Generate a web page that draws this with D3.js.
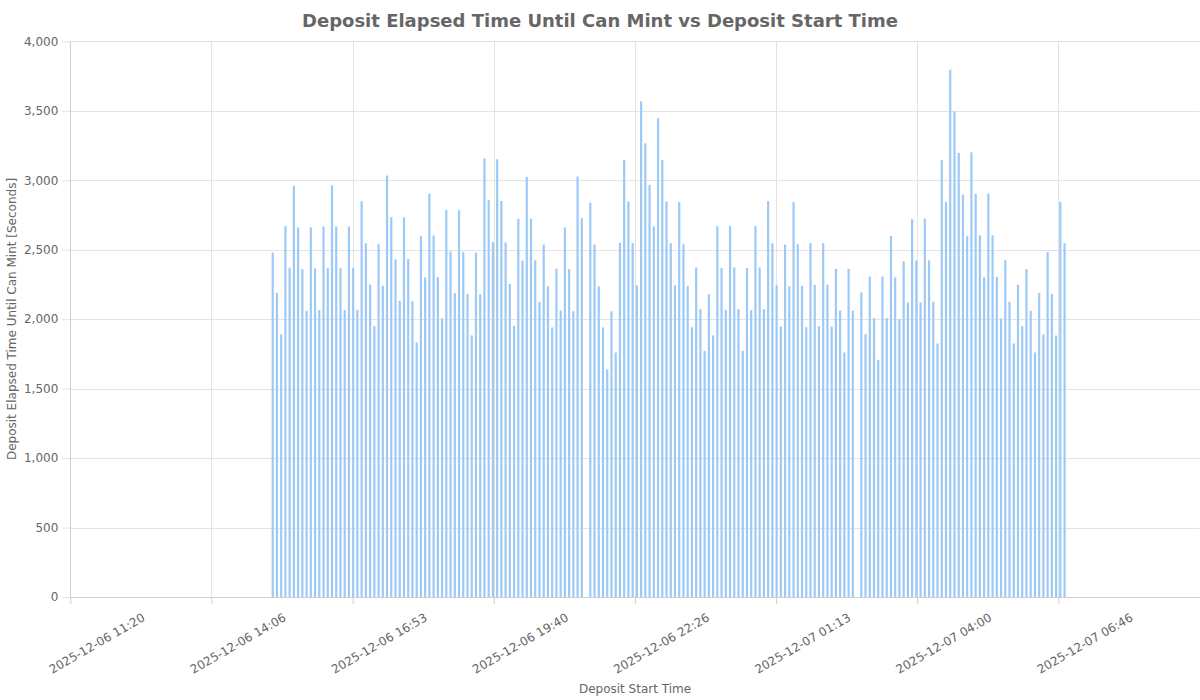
<!DOCTYPE html>
<html>
<head>
<meta charset="utf-8">
<script src="https://cdn.jsdelivr.net/npm/d3@7"></script>
<style>
  html, body { margin: 0; padding: 0; background: #fff; }
  svg { display: block; font-family: "DejaVu Sans", sans-serif; }
</style>
</head>
<body>
<svg id="chart" width="1200" height="700"></svg>
<script>
// ---- data ----
const chartTitle = "Deposit Elapsed Time Until Can Mint vs Deposit Start Time";
const xAxisTitle = "Deposit Start Time";
const yAxisTitle = "Deposit Elapsed Time Until Can Mint [Seconds]";

const xDomain = ["2025-12-06 11:20:00", "2025-12-07 09:33:20"];
const xTickTimes = [
  "2025-12-06 11:20:00", "2025-12-06 14:06:40", "2025-12-06 16:53:20", "2025-12-06 19:40:00",
  "2025-12-06 22:26:40", "2025-12-07 01:13:20", "2025-12-07 04:00:00", "2025-12-07 06:46:40"
];
const yTicks = [0, 500, 1000, 1500, 2000, 2500, 3000, 3500, 4000];

// deposits every 5 minutes starting at firstDeposit (null = no deposit in that slot)
const firstDeposit = "2025-12-06 15:19:00";
const depositStepMinutes = 5;
const elapsedSeconds = [
  2480, 2190, 1890, 2670, 2370, 2960, 2660, 2360, 2060, 2660,
  2365, 2065, 2667, 2367, 2964, 2667, 2367, 2065, 2667, 2367,
  2067, 2849, 2547, 2249, 1950, 2539, 2240, 3034, 2734, 2432,
  2132, 2734, 2432, 2129, 1832, 2597, 2300, 2904, 2602, 2302,
  2005, 2787, 2487, 2187, 2784, 2482, 2182, 1883, 2480, 2180,
  3156, 2856, 2554, 3151, 2851, 2552, 2252, 1952, 2722, 2422,
  3024, 2724, 2424, 2124, 2537, 2237, 1940, 2362, 2062, 2660,
  2360, 2057, 3026, 2727, null, 2839, 2537, 2237, 1940, 1638,
  2057, 1760, 2549, 3146, 2847, 2547, 2244, 3568, 3266, 2966,
  2667, 3446, 3146, 2847, 2547, 2244, 2842, 2539, 2240, 1942,
  2372, 2072, 1772, 2180, 1883, 2669, 2367, 2067, 2671, 2372,
  2072, 1772, 2367, 2065, 2671, 2372, 2072, 2849, 2547, 2244,
  1947, 2537, 2237, 2842, 2539, 2240, 1942, 2547, 2247, 1950,
  2547, 2247, 1947, 2362, 2062, 1760, 2362, 2062, null, 2192,
  1892, 2307, 2007, 1707, 2307, 2007, 2599, 2300, 2000, 2417,
  2120, 2719, 2422, 2120, 2724, 2424, 2125, 1825, 3144, 2844,
  3796, 3496, 3197, 2897, 2597, 3201, 2902, 2604, 2302, 2904,
  2604, 2304, 2005, 2424, 2125, 1825, 2247, 1950, 2360, 2060,
  1760, 2189, 1890, 2482, 2182, 1882, 2844, 2547
];

// ---- chart ----
const parse = d3.timeParse("%Y-%m-%d %H:%M:%S");
const fmt = d3.timeFormat("%Y-%m-%d %H:%M");
const t0 = parse(firstDeposit);
const deposits = elapsedSeconds
  .map((v, i) => ({ t: d3.timeMinute.offset(t0, i * depositStepMinutes), v }))
  .filter(d => d.v != null);

const plot = { left: 70.3, right: 1199.5, top: 41.3, bottom: 597 };
const svg = d3.select("#chart");

const x = d3.scaleTime().domain(xDomain.map(parse)).range([plot.left, plot.right]);
const y = d3.scaleLinear().domain([0, 4000]).range([plot.bottom, plot.top]);

const textColor = "#666";
const gridColor = "#e3e3e3";
const axisColor = "#cfcfcf";

// horizontal grid + y tick marks
const yAxis = d3.axisLeft(y).tickValues(yTicks).tickFormat(d3.format(",")).tickSize(8).tickPadding(4);
const gy = svg.append("g").attr("transform", `translate(${plot.left},0)`).call(yAxis);
gy.select(".domain").remove();
gy.selectAll(".tick line").attr("stroke", gridColor);
gy.selectAll(".tick text").attr("fill", textColor).style("font-size", "12px").style("font-family", "DejaVu Sans");
svg.append("g").selectAll("line").data(yTicks).join("line")
  .attr("x1", plot.left).attr("x2", plot.right)
  .attr("y1", d => Math.round(y(d)) + 0.5).attr("y2", d => Math.round(y(d)) + 0.5)
  .attr("stroke", d => d === 0 ? axisColor : gridColor).attr("stroke-width", 1);

// vertical grid
const xTicks = xTickTimes.map(parse);
svg.append("g").selectAll("line").data(xTicks).join("line")
  .attr("x1", d => Math.round(x(d)) + 0.5).attr("x2", d => Math.round(x(d)) + 0.5)
  .attr("y1", plot.top).attr("y2", plot.bottom)
  .attr("stroke", (d, i) => i === 0 ? axisColor : gridColor);

// x axis ticks and labels
const xAxis = d3.axisBottom(x).tickValues(xTicks).tickFormat(fmt).tickSize(7).tickPadding(0);
const gx = svg.append("g").attr("transform", `translate(0,${plot.bottom})`).call(xAxis);
gx.select(".domain").remove();
gx.selectAll(".tick line").attr("stroke", axisColor);
gx.selectAll(".tick text")
  .attr("fill", textColor).style("font-size", "12px").style("font-family", "DejaVu Sans")
  .attr("text-anchor", "end").attr("dy", null).attr("y", null)
  .attr("transform", "translate(75,23) rotate(-30)");

// bars
svg.append("g").selectAll("rect").data(deposits).join("rect")
  .attr("x", d => x(d.t) - 1.1)
  .attr("width", 2.2)
  .attr("y", d => y(d.v))
  .attr("height", d => y(0) - y(d.v))
  .attr("fill", "#9dc9f7");

// titles
svg.append("text").attr("x", 600).attr("y", 27).attr("text-anchor", "middle")
  .attr("fill", textColor).style("font-size", "18px").style("font-weight", "bold")
  .text(chartTitle);
svg.append("text").attr("x", 635).attr("y", 693).attr("text-anchor", "middle")
  .attr("fill", textColor).style("font-size", "12px").text(xAxisTitle);
svg.append("text").attr("transform", "translate(16,319) rotate(-90)").attr("text-anchor", "middle")
  .attr("fill", textColor).style("font-size", "12px").text(yAxisTitle);
</script>
</body>
</html>
